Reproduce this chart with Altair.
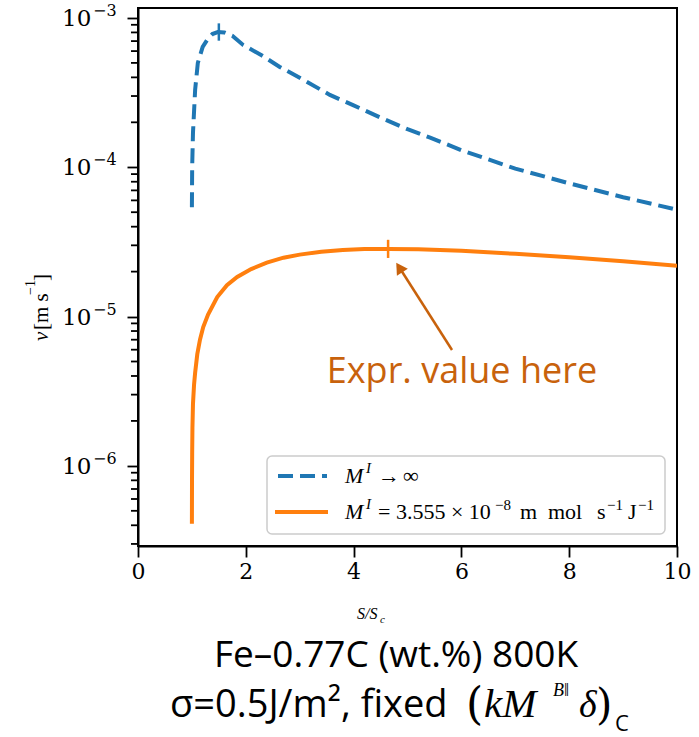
import altair as alt
import pandas as pd

# ---------------- data ----------------
x_inf = [1.0, 1.005, 1.02, 1.06, 1.11, 1.2, 1.28, 1.38, 1.48, 1.6, 1.75, 1.95,
         2.3, 2.63, 3.1, 3.56, 4.0, 4.5, 5.0, 5.42, 6.0, 7.0, 8.0, 9.0, 10.0]
v_inf = [5.4e-5, 1.0e-4, 1.7e-4, 3.3e-4, 5.0e-4, 6.4e-4, 7.1e-4, 7.8e-4, 8.05e-4, 8.0e-4, 7.6e-4, 6.6e-4,
         5.6e-4, 4.7e-4, 3.8e-4, 3.05e-4, 2.6e-4, 2.15e-4, 1.8e-4, 1.58e-4, 1.3e-4, 9.8e-5, 7.8e-5, 6.3e-5, 5.2e-5]

x_fin = [1.0, 1.002, 1.005, 1.01, 1.02, 1.04, 1.06, 1.1, 1.15, 1.21, 1.3, 1.47, 1.65, 1.84,
         2.1, 2.39, 2.7, 3.0, 3.4, 3.8, 4.2, 4.65, 5.2, 6.0, 7.0, 8.0, 9.0, 10.0]
v_fin = [4.1e-7, 8.0e-7, 1.2e-6, 1.8e-6, 2.6e-6, 3.5e-6, 4.2e-6, 5.6e-6, 7.0e-6, 8.5e-6, 1.03e-5, 1.35e-5, 1.62e-5, 1.84e-5,
         2.08e-5, 2.3e-5, 2.48e-5, 2.6e-5, 2.72e-5, 2.79e-5, 2.83e-5, 2.84e-5, 2.82e-5, 2.76e-5, 2.63e-5, 2.5e-5, 2.35e-5, 2.19e-5]

peak_x = [1.5, 4.64]
peak_v = [8.05e-4, 2.84e-5]

arrow_x = [5.826, 4.879]
arrow_v = [5.97e-6, 2.05e-5]
head_x = [4.848]
head_v = [2.13e-5]

note_x = [6.01]
note_v = [3.59e-6]
note_text = ["Expr. value here"]

x_ticks = [0, 2, 4, 6, 8, 10]
y_ticks = [1e-6, 1e-5, 1e-4, 1e-3]
y_base = ["10", "10", "10", "10"]
y_exp = ["−6", "−5", "−4", "−3"]
minor_ticks = [m * 10.0 ** k for k in range(-7, -2) for m in range(2, 10)]

X_DOM = [0, 10]
Y_DOM = [2.906e-7, 1.166e-3]
minor_ticks = [t for t in minor_ticks if Y_DOM[0] <= t <= Y_DOM[1]]

BLUE = "#1f77b4"
ORANGE = "#ff7f0e"
NOTE = "#C8620C"
SERIF = "Liberation Serif"
TICKF = "DejaVu Serif"
SANS = "Open Sans"

W, H = 539, 538

df_inf = pd.DataFrame({"x": x_inf, "v": v_inf})
df_fin = pd.DataFrame({"x": x_fin, "v": v_fin})
df_peak_inf = pd.DataFrame({"x": peak_x[:1], "v": peak_v[:1]})
df_peak_fin = pd.DataFrame({"x": peak_x[1:], "v": peak_v[1:]})
df_arrow = pd.DataFrame({"x": arrow_x, "v": arrow_v})
df_head = pd.DataFrame({"x": head_x, "v": head_v})
df_note = pd.DataFrame({"x": note_x, "v": note_v, "t": note_text})
df_minor = pd.DataFrame({"v": minor_ticks})
df_ylab = pd.DataFrame({"v": y_ticks, "b": y_base, "e": y_exp})
one = pd.DataFrame({"a": [0]})

xs = alt.Scale(domain=X_DOM, nice=False, zero=False)
ys = alt.Scale(type="log", domain=Y_DOM, nice=False)

x_axis = alt.Axis(values=x_ticks, title=None, grid=False, labelFont=TICKF, labelFontSize=22,
                  labelColor="black", tickColor="black", tickWidth=1.8, tickSize=11,
                  labelPadding=4, domainColor="black", domainWidth=2, labelFlush=False)
y_axis = alt.Axis(values=y_ticks, title=None, grid=False, labels=False,
                  tickColor="black", tickWidth=1.8, tickSize=11,
                  domainColor="black", domainWidth=2)

X = alt.X("x:Q", scale=xs, axis=x_axis)
Y = alt.Y("v:Q", scale=ys, axis=y_axis)

blue = alt.Chart(df_inf).mark_line(color=BLUE, strokeWidth=4, strokeDash=[15, 7], clip=True).encode(
    x=X, y=Y, order="x:Q")
orange = alt.Chart(df_fin).mark_line(color=ORANGE, strokeWidth=4, clip=True).encode(
    x=X, y=Y, order="x:Q")
pk_blue = alt.Chart(df_peak_inf).mark_point(shape="M0,-1L0,1", size=300, strokeWidth=2.5,
                                           filled=False, color=BLUE, opacity=1).encode(x=X, y=Y)
pk_fin = alt.Chart(df_peak_fin).mark_point(shape="M0,-1L0,1", size=330, strokeWidth=2.5,
                                          filled=False, color=ORANGE, opacity=1).encode(x=X, y=Y)

# minor ticks of the log axis, just left of the y axis line
minor = alt.Chart(df_minor).mark_rule(color="black", strokeWidth=1.8).encode(
    y=Y, x=alt.value(-7), x2=alt.value(0))

ylab_base = alt.Chart(df_ylab).mark_text(font=TICKF, fontSize=23, align="left", baseline="alphabetic",
                                         color="black").encode(y=Y, x=alt.value(-76), text="b:N", yOffset=alt.value(8))
ylab_exp = alt.Chart(df_ylab).mark_text(font=TICKF, fontSize=16, align="left", baseline="alphabetic",
                                        color="black").encode(y=Y, x=alt.value(-45), text="e:N", yOffset=alt.value(-2))

arrow = alt.Chart(df_arrow).mark_line(color=NOTE, strokeWidth=2.5).encode(x=X, y=Y)
head = alt.Chart(df_head).mark_point(shape="triangle-up", filled=True, size=170, angle=327,
                                     color=NOTE, opacity=1).encode(x=X, y=Y)
note = alt.Chart(df_note).mark_text(font=SANS, fontSize=36, color=NOTE, align="center",
                                    baseline="alphabetic").encode(x=X, y=Y, text="t:N")

# legend
leg_box = alt.Chart(one).mark_rect(fill="white", fillOpacity=0.85, stroke="#cccccc", strokeWidth=1.5,
                                   cornerRadius=5).encode(
    x=alt.value(129), x2=alt.value(527), y=alt.value(448), y2=alt.value(526))
leg_l1 = alt.Chart(one).mark_rule(color=BLUE, strokeWidth=4, strokeDash=[15, 7]).encode(
    x=alt.value(140), x2=alt.value(189), y=alt.value(468))
leg_l2 = alt.Chart(one).mark_rule(color=ORANGE, strokeWidth=4).encode(
    x=alt.value(137), x2=alt.value(190), y=alt.value(504))


def txt(s, x, y, size, font=SERIF, style="normal", align="left", angle=0, color="black", baseline="alphabetic"):
    kw = dict(text=s, font=font, fontSize=size, fontStyle=style, align=align, color=color, baseline=baseline)
    if angle:
        kw["angle"] = angle
    return alt.Chart(one).mark_text(**kw).encode(x=alt.value(x), y=alt.value(y))


texts = [
    # legend row 1
    txt("M", 207, 475, 22, style="italic"),
    txt("I", 228, 465, 15, style="italic"),
    txt("→", 240, 475, 22),
    txt("∞", 265, 475, 22),
    # legend row 2
    txt("M", 207, 511, 22, style="italic"),
    txt("I", 228, 501, 15, style="italic"),
    txt("= 3.555 × 10", 240, 511, 22),
    txt("−8", 357, 502, 15),
    txt("m", 382, 511, 22),
    txt("mol", 410, 511, 22),
    txt("s", 459, 511, 22),
    txt("−1", 469, 502, 15),
    txt("J", 490, 511, 22),
    txt("−1", 500, 502, 15),
    # x axis title
    txt("S/S", 219, 611, 16, style="italic"),
    txt("c", 242, 615, 11, style="italic"),
    # y axis title
    txt("v", -90, 333, 21, style="italic", angle=270),
    txt("[m s", -90, 322, 21, angle=270),
    txt("−1", -103, 287, 14, angle=270),
    txt("]", -90, 273, 21, angle=270),
    # bottom caption
    txt("Fe–0.77C (wt.%) 800K", 258, 659, 37, font=SANS, align="center"),
    txt("σ=0.5J/m², fixed", 32, 709, 38, font=SANS),
    txt("(", 328, 711, 44, font="DejaVu Serif"),
    txt("kM", 346, 709, 41, style="italic"),
    txt("B‖", 415, 688, 18, style="italic"),
    txt("δ", 441, 709, 38, style="italic"),
    txt(")", 458, 711, 42, font="DejaVu Serif"),
    txt("C", 477, 723, 22, font=SANS),
]

chart = alt.layer(
    blue, orange, pk_blue, pk_fin, arrow, head, note, leg_box, leg_l1, leg_l2,
    ylab_base, ylab_exp, *texts, minor
).properties(
    width=W, height=H,
    autosize=alt.AutoSizeParams(type="none"),
    padding={"left": 138, "top": 8, "right": 22, "bottom": 191},
    background="white",
).configure_view(stroke="black", strokeWidth=2)

chart.save("out.html", embed_options={"renderer": "svg", "actions": False})
